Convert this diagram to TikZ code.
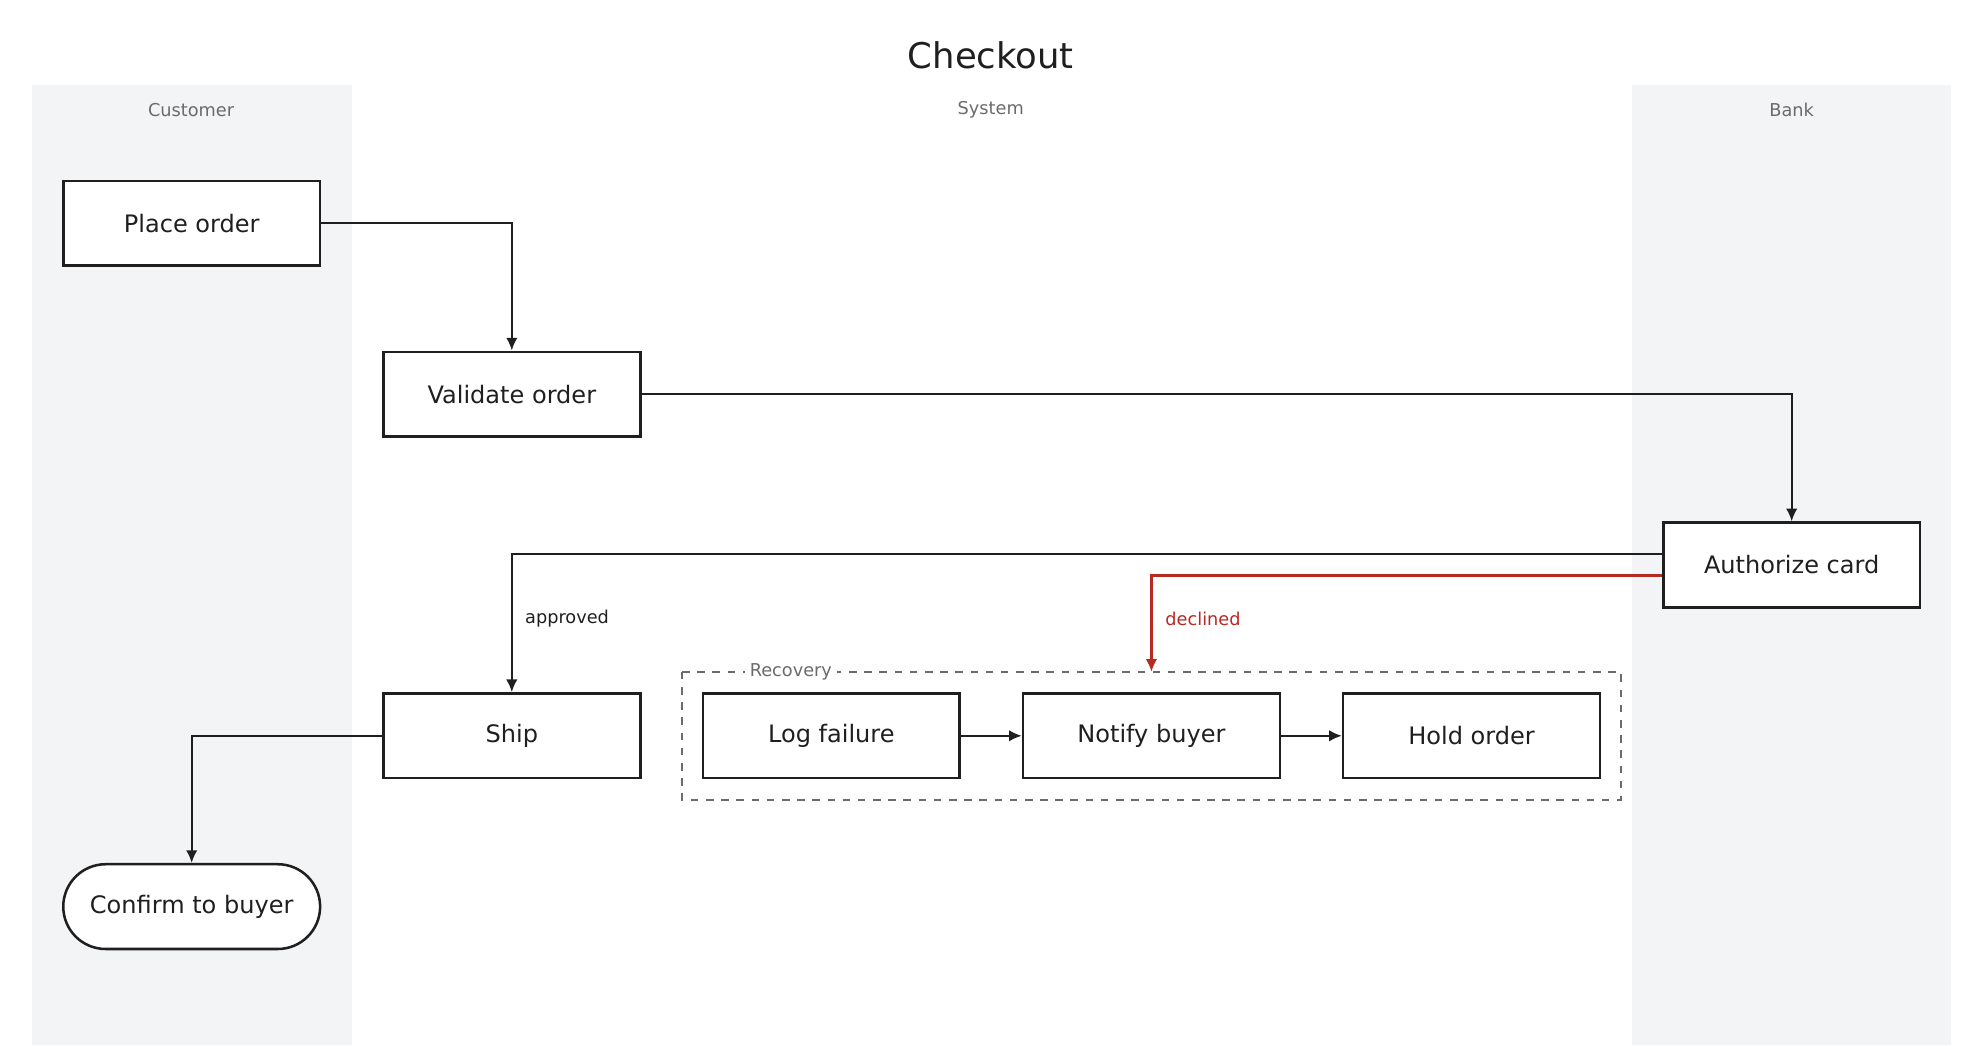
\documentclass[tikz,border=0pt]{standalone}
\usepackage{fontspec}
\setmainfont{DejaVu Sans}
\usetikzlibrary{arrows.meta}
\definecolor{ink}{HTML}{1F1F1F}
\definecolor{lane}{HTML}{F3F4F6}
\definecolor{muted}{HTML}{6B6B6B}
\definecolor{alert}{HTML}{B52A22}
\tikzset{
  box/.style={draw=ink,line width=1pt,fill=white,minimum width=101.5pt,minimum height=33.5pt,inner sep=0pt,font=\fontsize{9.5}{11}\selectfont,text=ink},
  term/.style={box,rounded corners=16.75pt},
  flow/.style={draw=ink,line width=0.8pt,-{Latex[length=5pt,width=4.5pt]}},
  lanelbl/.style={font=\fontsize{7}{8}\selectfont,text=muted},
  edgelbl/.style={font=\fontsize{7}{8}\selectfont,anchor=west}
}
\begin{document}
\begin{tikzpicture}[x=0.5pt,y=-0.5pt]
\useasboundingbox (0,0) rectangle (1568,826);
\fill[lane] (25,67) rectangle (278,826);
\fill[lane] (1290,67) rectangle (1542,826);
\node[font=\fontsize{14}{16}\selectfont,text=ink] (title) at (783,44) {Checkout};
\node[lanelbl] (l1) at (151,87) {Customer};
\node[lanelbl] (l2) at (783,87) {System};
\node[lanelbl] (l3) at (1416,87) {Bank};
\draw[muted,dashed,line width=0.7pt] (539,531) rectangle (1281,632);
\node[lanelbl,fill=white,inner sep=2pt] (rec) at (625,531) {Recovery};
\node[box] (place) at (151.5,176.5) {Place order};
\node[box] (valid) at (404.5,311.5) {Validate order};
\node[box] (auth) at (1416,446.5) {Authorize card};
\node[box] (ship) at (404.5,581.5) {Ship};
\node[box] (log) at (657,581.5) {Log failure};
\node[box] (notify) at (910,581.5) {Notify buyer};
\node[box] (hold) at (1163,581.5) {Hold order};
\node[term] (confirm) at (151.5,716.5) {Confirm to buyer};
\coordinate (rtop) at (910,531);
\draw[flow] (place.east) -| (valid.north);
\draw[flow] (valid.east) -| (auth.north);
\draw[flow] (auth.west |- 0,438) -| (ship.north);
\draw[flow,draw=alert,line width=1.3pt,-{Latex[length=5pt,width=4.5pt]}] (auth.west |- 0,455) -| (rtop);
\draw[flow] (ship.west) -| (confirm.north);
\draw[flow] (log) -- (notify);
\draw[flow] (notify) -- (hold);
\node[edgelbl,text=ink] (ap) at (408,489) {approved};
\node[edgelbl,text=alert] (dc) at (914,489) {declined};
\end{tikzpicture}
\end{document}
